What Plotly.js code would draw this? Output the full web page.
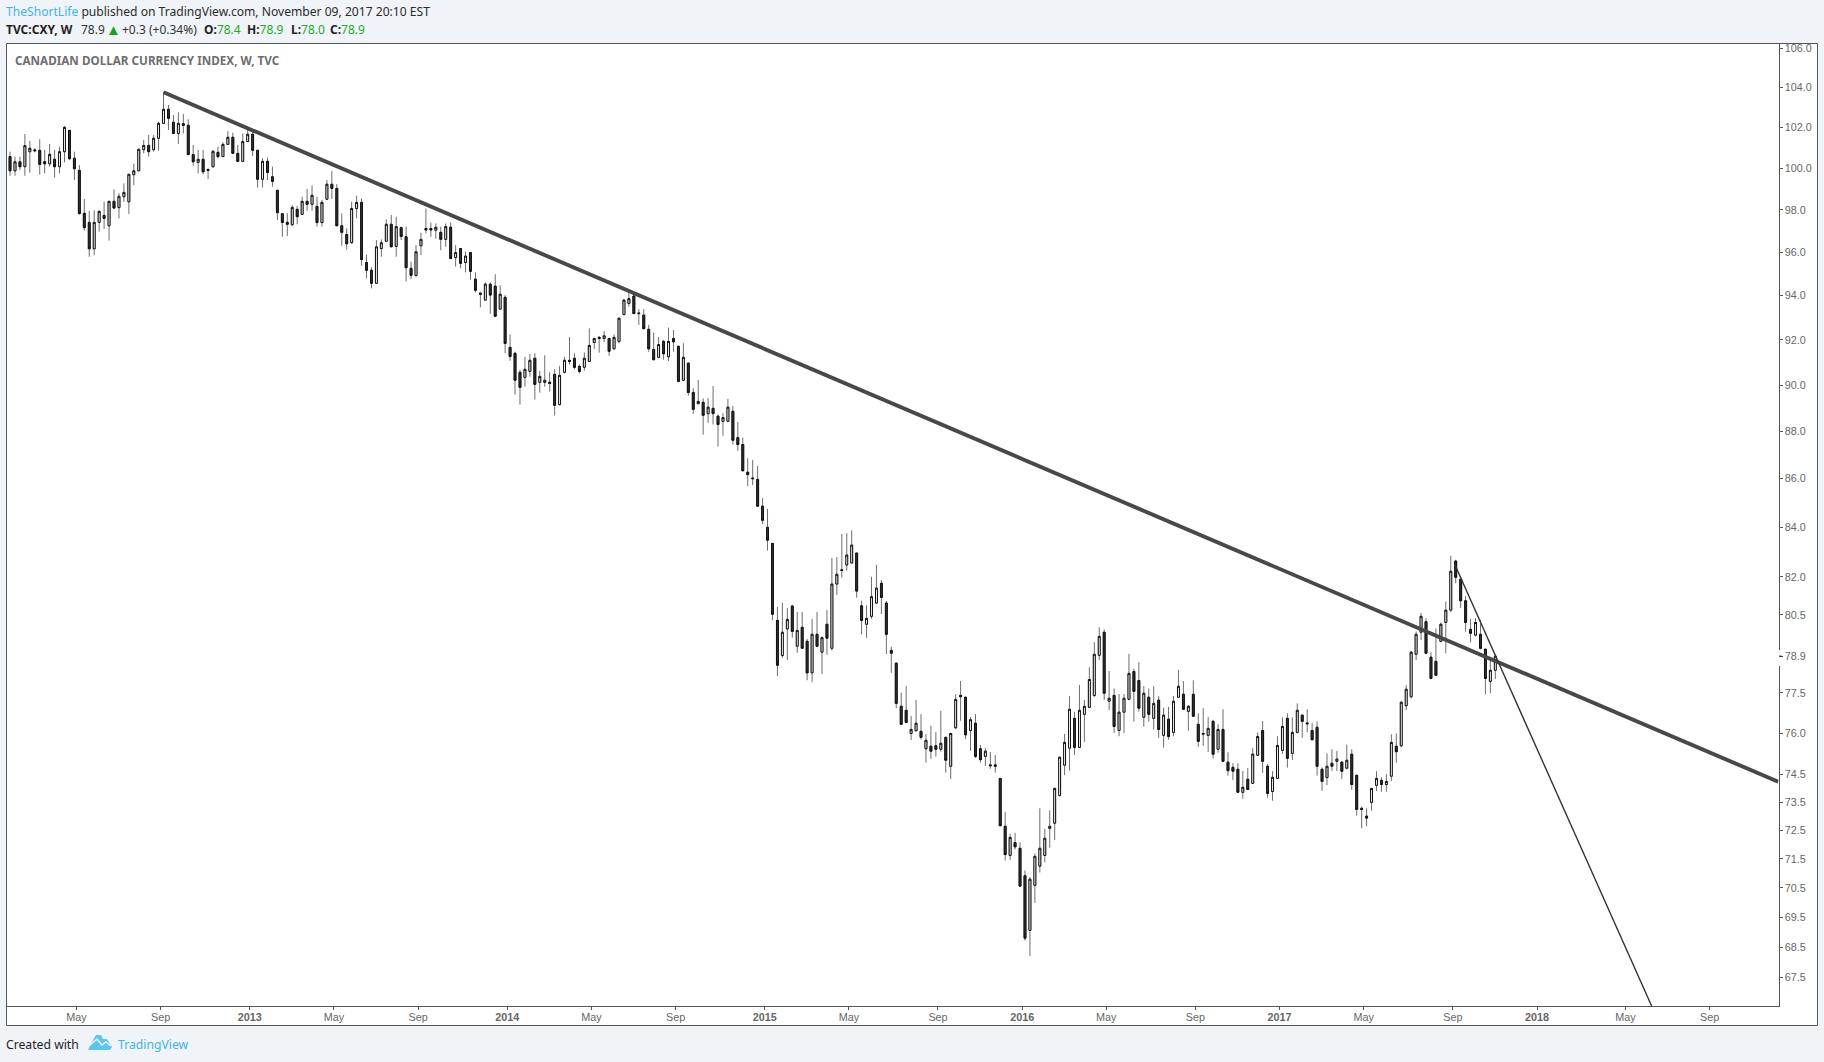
<!DOCTYPE html>
<html>
<head>
<meta charset="utf-8">
<title>Canadian Dollar Currency Index</title>
<script src="https://cdn.plot.ly/plotly-3.0.1.min.js"></script>
<style>html,body{margin:0;padding:0;background:#f0f3f7;overflow:hidden}#chart{width:1824px;height:1062px}</style>
</head>
<body>
<div id="chart"></div>
<script>
var firstWeek = '2012-02-06';
var opens = [
100.56,99.87,100.31,100.07,100.80,100.89,100.87,100.31,100.21,100.43,
100.07,100.80,101.85,100.48,99.89,97.83,97.40,96.16,97.40,97.73,
97.24,98.40,98.10,98.62,98.38,99.68,99.87,100.90,101.11,100.90,
101.46,102.20,102.90,102.25,101.70,102.18,102.10,100.66,100.28,100.43,
99.94,100.07,100.77,100.56,101.16,101.51,100.72,100.33,101.30,101.66,
100.87,99.46,100.33,99.58,98.93,97.81,97.40,97.29,98.02,97.78,
98.40,98.26,98.16,97.39,98.50,99.22,99.02,97.24,96.83,96.44,
98.06,98.35,95.52,95.16,94.56,96.17,96.51,97.31,96.27,97.15,
96.72,95.25,94.92,96.30,97.11,97.11,97.03,96.93,96.60,97.17,
95.75,96.17,95.52,95.98,94.75,94.11,93.79,94.52,94.43,93.38,
93.92,91.66,91.40,90.56,90.34,90.60,91.18,90.12,90.12,90.13,
90.47,89.15,90.56,91.09,91.18,90.82,90.78,91.04,91.88,92.11,
92.06,92.06,91.60,91.93,93.14,93.64,93.98,93.21,93.11,92.47,
91.57,91.22,91.93,91.25,92.06,91.71,90.21,90.96,89.68,89.19,
89.25,88.76,88.99,88.65,88.43,88.43,88.86,87.73,87.44,86.27,
86.03,85.97,84.86,83.99,83.34,80.28,78.92,79.95,80.84,79.28,
80.01,79.47,78.26,79.74,79.05,80.13,79.20,81.71,82.28,82.47,
82.55,82.95,80.85,80.13,80.44,80.96,81.74,80.96,79.12,78.63,
77.00,76.85,75.99,76.09,76.07,75.43,75.52,75.54,75.41,75.85,
74.79,76.20,77.41,77.34,76.10,76.37,75.43,75.15,74.84,74.84,
74.35,72.64,71.62,72.07,71.87,70.92,69.06,70.59,71.25,71.62,
72.57,72.75,73.73,74.83,75.45,76.55,75.48,76.70,76.96,77.40,
78.93,79.82,77.19,77.41,76.10,76.78,77.26,78.31,77.97,76.59,
77.34,76.55,77.23,75.92,76.52,76.03,77.34,77.45,76.81,77.45,
76.33,75.99,75.92,76.44,75.41,76.14,74.94,74.75,74.68,73.85,
74.32,74.17,75.19,76.10,74.79,73.88,74.35,75.37,76.55,75.26,
76.03,76.67,76.38,76.10,76.22,74.68,74.38,74.90,74.97,74.94,
74.72,75.23,74.46,73.28,73.00,73.49,74.10,74.28,74.13,74.43,
75.52,75.54,77.02,77.36,78.97,79.82,80.23,78.86,78.70,79.47,
80.20,80.68,82.63,81.90,81.05,79.93,79.71,79.74,79.16,77.94,
78.36];
var highs = [
100.80,100.56,100.56,101.67,101.33,100.97,101.41,100.89,101.18,100.89,
101.05,102.07,101.87,100.80,100.15,98.51,97.95,97.98,97.98,98.38,
98.42,98.98,98.78,99.26,99.71,100.22,100.97,101.38,101.62,101.62,
102.28,103.75,103.12,102.62,102.75,102.67,102.40,101.13,100.89,100.89,
99.94,100.89,101.05,101.26,101.82,101.74,101.13,101.70,101.90,101.79,
100.87,100.48,100.51,100.07,98.94,97.83,97.83,98.22,98.18,98.62,
99.00,99.17,98.62,98.46,99.42,99.86,99.23,97.83,97.12,98.38,
98.67,98.54,95.89,95.30,96.57,96.60,97.54,97.75,97.67,97.20,
97.20,95.56,96.33,96.91,98.06,97.39,97.35,97.20,97.35,97.40,
96.33,96.17,96.02,96.02,95.07,94.15,94.61,94.61,94.98,94.47,
94.02,92.24,91.47,90.66,91.24,91.37,91.40,90.62,91.31,90.56,
90.69,90.84,91.25,92.12,91.40,90.91,91.44,92.51,92.09,92.17,
92.39,92.09,92.24,93.00,93.85,94.11,94.18,93.38,93.38,92.67,
92.33,92.12,91.99,92.55,92.44,91.74,91.85,91.00,89.86,90.22,
89.42,89.44,89.96,88.73,88.78,89.40,89.09,88.40,87.73,86.86,
86.79,86.53,85.20,84.75,83.34,80.81,80.97,80.76,80.89,80.61,
80.61,79.56,80.34,80.61,79.66,80.69,82.75,82.79,83.72,83.75,
83.87,82.95,81.06,80.87,82.00,82.48,81.87,81.04,79.26,78.66,
77.51,77.76,76.64,77.24,76.71,75.97,76.28,76.04,76.83,75.87,
76.01,77.45,77.95,77.36,76.60,76.71,75.57,75.46,75.31,75.20,
74.35,73.14,72.37,72.41,72.08,71.10,70.87,71.69,73.28,72.55,
73.21,74.02,75.12,75.97,77.39,76.79,77.80,77.24,78.47,79.44,
80.01,79.93,78.33,77.67,77.46,77.46,78.99,78.42,78.66,77.76,
77.67,77.76,77.39,76.95,76.98,77.39,78.37,77.95,77.05,77.98,
76.74,76.93,76.60,76.48,76.33,76.89,75.30,74.90,74.90,74.62,
74.73,75.45,76.03,76.45,74.87,74.61,75.89,76.59,76.74,76.59,
77.11,76.67,76.89,76.37,76.44,74.75,75.26,75.41,75.35,74.97,
75.58,75.41,74.50,73.34,73.28,73.99,74.61,74.39,74.51,75.96,
75.99,77.21,77.80,79.10,79.85,80.57,80.36,79.05,79.97,80.20,
81.02,82.84,82.68,82.01,81.24,80.34,80.36,80.30,79.20,78.75,
78.90];
var lows = [
99.63,99.63,99.90,99.63,99.78,100.77,99.68,99.74,100.07,99.54,
99.74,100.28,100.39,99.42,97.81,97.01,95.79,95.86,96.96,97.09,
96.54,98.03,97.59,98.38,97.80,99.18,99.86,100.72,100.56,100.80,
100.85,102.17,101.87,101.70,101.18,101.70,100.66,100.12,99.74,99.70,
99.47,100.02,100.48,100.56,101.13,100.72,100.31,100.31,101.30,100.59,
99.06,99.06,99.42,99.10,97.51,96.72,96.76,97.23,97.31,97.75,
97.95,97.95,97.20,97.20,98.50,98.51,97.24,96.30,96.12,96.39,
97.59,95.37,94.79,94.33,94.56,95.79,96.51,96.25,95.79,96.57,
94.64,94.75,94.87,95.86,96.88,96.72,96.63,96.09,96.25,95.66,
95.33,95.25,95.06,94.72,94.14,93.46,93.79,93.17,93.06,93.38,
91.40,91.07,89.58,89.15,89.93,90.37,89.37,89.67,89.93,89.71,
88.68,89.12,90.51,90.91,90.69,90.51,90.63,91.04,91.60,91.43,
91.90,91.29,91.57,91.84,93.09,93.49,93.18,92.67,92.47,91.47,
91.07,91.18,91.12,91.06,91.47,90.16,90.19,89.54,88.75,89.17,
87.86,88.37,88.29,87.35,87.81,88.39,87.43,87.17,86.33,85.69,
85.73,84.86,84.13,83.05,80.29,78.14,78.84,78.75,79.61,79.03,
79.20,77.98,77.91,79.26,78.22,78.95,79.11,81.28,81.97,82.24,
82.55,81.17,79.74,79.60,80.34,80.93,80.53,78.98,78.26,76.93,
76.33,76.39,75.75,76.07,75.77,74.92,75.06,75.14,75.32,74.56,
74.33,76.15,76.46,75.78,75.35,75.09,74.92,74.80,74.70,74.56,
72.66,71.44,71.46,71.83,70.56,68.72,68.21,69.99,71.03,71.38,
71.89,72.16,73.73,74.47,74.63,75.20,75.48,75.68,76.96,77.36,
78.75,77.24,76.86,76.01,75.89,76.01,77.26,76.43,76.80,76.24,
76.43,76.14,75.83,75.47,75.76,75.89,77.34,76.86,76.09,76.61,
75.50,75.54,75.31,75.07,75.29,74.94,74.45,74.29,73.85,73.62,
73.94,74.16,75.17,74.55,73.65,73.55,74.34,75.24,74.74,75.02,
75.99,75.83,76.03,75.74,74.45,73.90,74.11,74.62,74.62,74.33,
74.68,73.94,73.02,72.57,72.64,73.19,73.90,73.87,73.87,74.26,
74.92,75.48,76.86,77.29,78.75,79.52,78.97,78.05,78.15,79.43,
79.01,80.60,81.74,80.76,79.84,79.43,79.65,79.16,77.45,77.49,
78.03];
var closes = [
99.87,100.31,100.07,101.10,100.97,100.85,100.18,100.21,100.67,100.07,
100.80,102.00,100.46,99.97,97.81,97.15,96.16,97.40,97.92,97.59,
98.40,98.08,98.64,98.83,99.70,99.87,100.92,101.11,100.80,101.46,
102.20,102.90,102.45,101.70,102.20,102.10,100.66,100.31,100.43,99.82,
99.89,100.82,100.56,101.16,101.51,100.72,100.33,101.30,101.66,100.87,
99.46,100.33,99.79,99.36,97.86,97.40,97.31,98.11,97.67,98.40,
98.26,98.69,97.39,98.35,99.22,99.02,97.24,96.93,96.39,98.06,
98.35,95.66,95.16,94.56,96.25,96.44,97.31,96.25,97.20,96.74,
95.28,94.93,96.02,96.60,97.04,97.04,97.17,96.60,97.20,95.71,
95.98,95.48,95.82,95.11,94.24,94.06,94.52,94.02,93.06,94.06,
91.84,91.26,90.21,89.90,90.69,91.09,90.03,90.38,90.21,90.07,
89.12,90.43,91.09,91.04,90.78,90.60,91.18,91.75,92.06,92.06,
92.18,91.49,92.11,92.97,93.79,93.86,93.18,93.18,92.50,91.60,
91.12,91.79,91.38,91.93,91.91,90.16,91.22,89.68,88.95,89.29,
88.69,89.04,88.76,88.29,88.59,89.04,87.62,87.44,86.33,86.17,
86.00,84.86,84.28,83.47,80.52,78.55,79.82,80.32,79.85,79.89,
79.20,78.26,79.74,79.28,79.61,79.59,81.71,82.10,82.25,82.87,
83.27,81.43,80.28,80.36,81.21,81.55,81.18,79.74,79.01,77.11,
76.33,76.40,76.14,76.37,75.85,75.74,75.34,75.41,75.63,75.01,
75.99,77.26,77.36,75.94,76.50,75.15,75.03,75.34,74.81,74.79,
72.66,71.65,72.25,71.92,70.56,68.80,70.80,71.59,71.87,72.22,
72.64,73.99,75.12,75.66,76.89,75.48,76.85,77.00,78.01,78.97,
79.66,77.49,77.30,76.25,76.78,77.30,78.24,77.56,76.93,77.49,
76.70,77.11,76.14,76.67,75.88,77.19,77.75,76.89,77.00,76.63,
75.70,75.97,76.18,75.23,76.14,74.97,74.63,74.61,73.85,74.03,
73.95,75.23,75.88,74.97,73.81,74.39,75.55,76.25,75.08,76.03,
76.85,76.44,76.35,75.76,74.79,74.24,74.79,74.79,75.05,74.61,
75.01,74.13,73.24,73.24,72.93,73.99,74.35,74.13,74.24,75.66,
75.32,77.15,77.64,79.05,79.74,80.44,79.01,78.05,78.17,80.13,
80.68,82.22,81.98,81.05,80.20,79.78,80.20,79.20,78.05,78.36,
78.90];

var xTickDates = ['2012-05-10','2012-09-06','2013-01-10','2013-05-09','2013-09-05','2014-01-09','2014-05-08','2014-09-04','2015-01-08','2015-05-07','2015-09-10','2016-01-07','2016-05-05','2016-09-08','2017-01-05','2017-05-04','2017-09-07','2018-01-04','2018-05-09','2018-09-05'];
var xTickLabels = ['May','Sep','<b>2013</b>','May','Sep','<b>2014</b>','May','Sep','<b>2015</b>','May','Sep','<b>2016</b>','May','Sep','<b>2017</b>','May','Sep','<b>2018</b>','May','Sep'];
var yTickValues = [106,104,102,100,98,96,94,92,90,88,86,84,82,80.5,78.9,77.5,76,74.5,73.5,72.5,71.5,70.5,69.5,68.5,67.5];
var yTickLabels = ['106.0','104.0','102.0','100.0','98.0','96.0','94.0','92.0','90.0','88.0','86.0','84.0','82.0','80.5','78.9','77.5','76.0','74.5','73.5','72.5','71.5','70.5','69.5','68.5','67.5'];
var longTrendDates = ['2012-09-10','2018-12-11'];
var longTrendValues = [103.75,74.23];
var shortTrendDates = ['2017-09-11','2018-06-15'];
var shortTrendValues = [82.41,66.57];
var lastPrice = 78.9;

var W = 1824, H = 1062;
var plotL = 6.5, plotR = 1778.5, plotT = 43.5, plotB = 1006, outerR = 1817.5, outerB = 1025.5;
function px(x){return x/W;}
function py(y){return 1-y/H;}

var dates = opens.map(function(_, i){
  return new Date(Date.parse(firstWeek + 'T00:00:00Z') + i*7*86400000).toISOString().slice(0,10);
});
var bodyHigh = opens.map(function(o,i){return Math.max(o,closes[i]);});
var bodyLow = opens.map(function(o,i){return Math.min(o,closes[i]);});

var wickTrace = {
  type:'candlestick', x:dates, open:opens, high:highs, low:lows, close:closes,
  whiskerwidth:0, hoverinfo:'skip', showlegend:false,
  increasing:{line:{color:'#6e6e6e',width:1},fillcolor:'#ffffff'},
  decreasing:{line:{color:'#6e6e6e',width:1},fillcolor:'#333333'}
};
var bodyTrace = {
  type:'candlestick', x:dates, open:opens, high:bodyHigh, low:bodyLow, close:closes,
  whiskerwidth:0, hoverinfo:'skip', showlegend:false,
  increasing:{line:{color:'#111111',width:1},fillcolor:'#ffffff'},
  decreasing:{line:{color:'#111111',width:1},fillcolor:'#333333'}
};
var longTrend = {type:'scatter',mode:'lines',x:longTrendDates,y:longTrendValues,hoverinfo:'skip',showlegend:false,
  line:{color:'#484848',width:3.9}};
var shortTrend = {type:'scatter',mode:'lines',x:shortTrendDates,y:shortTrendValues,hoverinfo:'skip',showlegend:false,
  line:{color:'#333333',width:1.4}};

var green = '#22ab22', blue = '#3fb4e6';
var uiFont = '"Noto Sans", sans-serif';
function note(x,y,text,size,color){
  return {xref:'paper',yref:'paper',x:px(x),y:py(y),xanchor:'left',yanchor:'middle',align:'left',showarrow:false,
    text:text,font:{family:uiFont,size:size,color:color},borderpad:0,borderwidth:0};
}
var annotations = [
  note(6,11.5,'<span style="color:'+blue+'">TheShortLife</span> published on TradingView.com, November 09, 2017 20:10 EST',12.1,'#2b2b2b'),
  note(6,29.5,'<b>TVC:CXY, W</b>',12,'#1f1f1f'),
  note(81,29.5,'78.9',12,'#333333'),
  note(106,29,'▲',15,'#1f9e1f'),
  note(122,29.5,'+0.3 (+0.34%)',12,'#333333'),
  note(204,29.5,'<b>O:</b><span style="color:'+green+'">78.4</span>',12,'#1f1f1f'),
  note(247,29.5,'<b>H:</b><span style="color:'+green+'">78.9</span>',12,'#1f1f1f'),
  note(291,29.5,'<b>L:</b><span style="color:'+green+'">78.0</span>',12,'#1f1f1f'),
  note(330,29.5,'<b>C:</b><span style="color:'+green+'">78.9</span>',12,'#1f1f1f'),
  note(15,60.5,'<b>CANADIAN DOLLAR CURRENCY INDEX, W, TVC</b>',11.7,'#6e6e6e'),
  note(6,1044,'Created with',12.2,'#1f1f1f'),
  note(118,1044,'TradingView',12.2,blue)
];
var shapes = [
  {type:'rect',xref:'paper',yref:'paper',layer:'below',x0:px(plotL),x1:px(outerR),y0:py(plotT),y1:py(outerB),
    fillcolor:'#ffffff',line:{color:'#555555',width:1}},
  {type:'rect',xref:'paper',yref:'paper',layer:'above',x0:px(plotR-1),x1:px(plotR+1.5),y0:py(650),y1:py(666),
    fillcolor:'#ffffff',line:{width:0}},
  {type:'line',xref:'paper',yref:'y',layer:'above',x0:px(plotR+0.5),x1:px(plotR+3),y0:lastPrice,y1:lastPrice,
    line:{color:'#111111',width:1}},
  {type:'path',xref:'paper',yref:'paper',layer:'above',fillcolor:'#5cc6ec',line:{width:0},
    path:'M'+px(88)+','+py(1050)+' L'+px(92)+','+py(1042)+' L'+px(96)+','+py(1035)+' L'+px(101)+','+py(1035)+' L'+px(103)+','+py(1039)+' L'+px(107)+','+py(1039)+' L'+px(112)+','+py(1047)+' L'+px(110)+','+py(1050)+' Z'},
  {type:'path',xref:'paper',yref:'paper',layer:'above',fillcolor:'rgba(0,0,0,0)',line:{color:'#f0f3f7',width:1.5},
    path:'M'+px(90)+','+py(1045)+' L'+px(97)+','+py(1039)+' L'+px(102)+','+py(1045)+' L'+px(106)+','+py(1042)+' L'+px(111)+','+py(1046)}
];
var layout = {
  width:W, height:H, margin:{l:0,r:0,t:0,b:0,pad:0},
  paper_bgcolor:'#f0f3f7', plot_bgcolor:'rgba(0,0,0,0)',
  showlegend:false, hovermode:false, dragmode:false, boxgap:0.45,
  font:{family:'"Liberation Sans", Arial, sans-serif',size:10.8,color:'#666666'},
  xaxis:{type:'date',domain:[px(plotL),px(plotR)],range:['2012-02-01','2018-12-11 09:00'],
    rangeslider:{visible:false},tickmode:'array',tickvals:xTickDates,ticktext:xTickLabels,
    ticks:'outside',ticklen:3,tickwidth:1,tickcolor:'#555555',showline:true,linecolor:'#555555',linewidth:1,
    showgrid:false,zeroline:false,tickangle:0,tickfont:{size:10.8,color:'#666666'},ticklabelstandoff:-2,anchor:'y'},
  yaxis:{type:'log',domain:[py(plotB),py(plotT)],range:[Math.log10(66.57),Math.log10(106.24)],side:'right',
    tickmode:'array',tickvals:yTickValues,ticktext:yTickLabels,
    ticks:'outside',ticklen:3,tickwidth:1,tickcolor:'#555555',showline:true,linecolor:'#555555',linewidth:1,
    showgrid:false,zeroline:false,tickfont:{size:10.8,color:'#666666'},anchor:'x'},
  annotations:annotations, shapes:shapes
};
Plotly.newPlot('chart',[wickTrace,bodyTrace,longTrend,shortTrend],layout,{displayModeBar:false,staticPlot:true});
</script>
</body>
</html>
